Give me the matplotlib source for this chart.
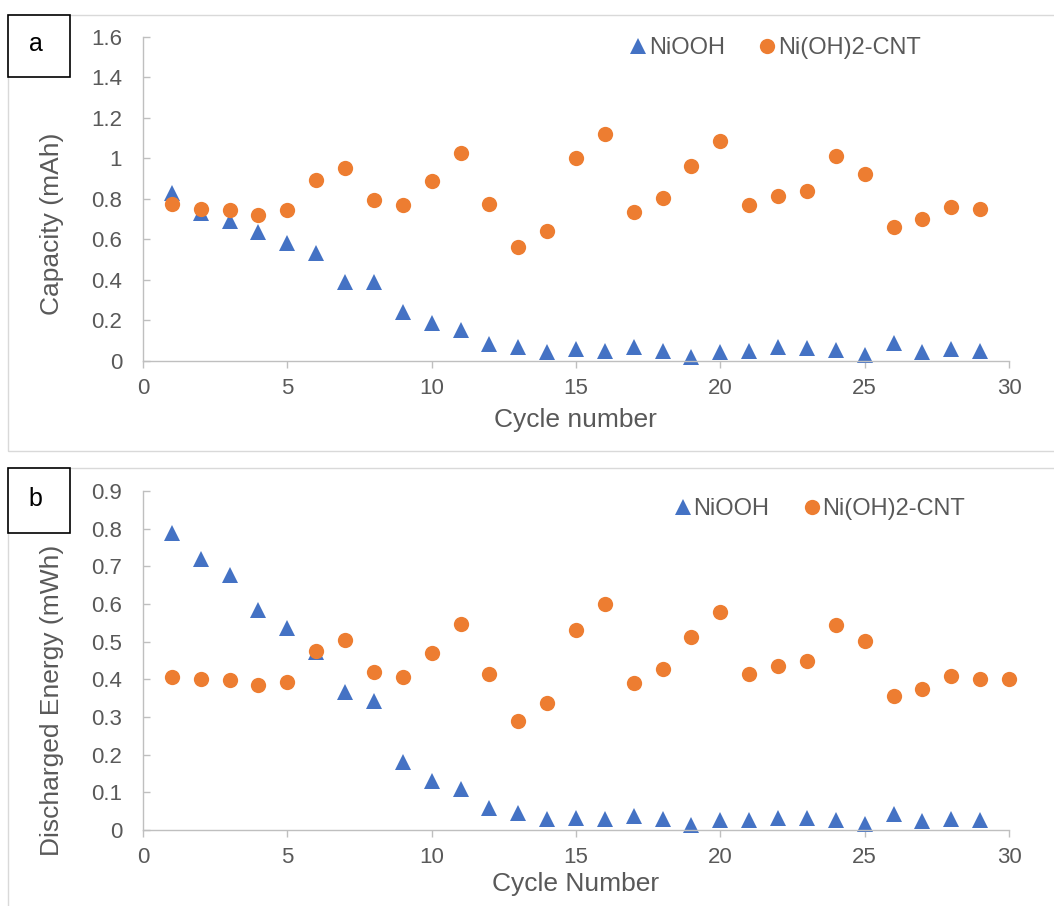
import matplotlib.pyplot as plt
from matplotlib.patches import Rectangle
from matplotlib.ticker import FuncFormatter, MultipleLocator

plt.rcParams["font.family"] = ["Liberation Sans", "DejaVu Sans"]

# data
cycles = list(range(1, 31))
cap_niooh = [0.83, 0.73, 0.69, 0.635, 0.585, 0.535, 0.39, 0.39, 0.24, 0.19,
             0.153, 0.084, 0.068, 0.046, 0.059, 0.05, 0.07, 0.05, 0.02, 0.046,
             0.05, 0.07, 0.063, 0.055, 0.03, 0.087, 0.046, 0.058, 0.05]
cap_cnt = [0.774, 0.749, 0.746, 0.72, 0.747, 0.894, 0.951, 0.795, 0.77, 0.89,
           1.029, 0.774, 0.565, 0.642, 1.0, 1.123, 0.736, 0.807, 0.965, 1.086,
           0.77, 0.815, 0.838, 1.014, 0.922, 0.663, 0.701, 0.759, 0.749]
energy_niooh = [0.789, 0.72, 0.677, 0.584, 0.537, 0.473, 0.367, 0.342, 0.18, 0.13,
                0.108, 0.059, 0.044, 0.028, 0.033, 0.028, 0.037, 0.028, 0.013, 0.027,
                0.027, 0.033, 0.033, 0.027, 0.016, 0.042, 0.024, 0.029, 0.027]
energy_cnt = [0.405, 0.401, 0.397, 0.384, 0.394, 0.475, 0.504, 0.42, 0.407, 0.469,
              0.546, 0.414, 0.29, 0.338, 0.531, 0.6, 0.391, 0.427, 0.512, 0.58,
              0.413, 0.435, 0.448, 0.543, 0.502, 0.355, 0.375, 0.409, 0.402, 0.402]

BLUE = "#4472C4"
ORANGE = "#ED7D31"
GREY_TXT = "#595959"
GREY_AX = "#BFBFBF"
W, H = 1054, 906


def px_rect(x0, y0, x1, y1):
    return [x0 / W, 1 - y1 / H, (x1 - x0) / W, (y1 - y0) / H]


fig = plt.figure(figsize=(W / 100, H / 100), dpi=100)

# outer chart frames and panel letters
for (x0, y0, x1, y1) in [(8, 15, 1070, 451), (8, 468, 1070, 930)]:
    fig.patches.append(Rectangle((x0 / W, 1 - y1 / H), (x1 - x0) / W, (y1 - y0) / H,
                                 transform=fig.transFigure, fill=False,
                                 edgecolor="#D9D9D9", linewidth=1.0))
for letter, (x0, y0, x1, y1) in [("a", (8, 15, 70, 77)), ("b", (8, 468, 70, 533))]:
    fig.patches.append(Rectangle((x0 / W, 1 - y1 / H), (x1 - x0) / W, (y1 - y0) / H,
                                 transform=fig.transFigure, facecolor="white",
                                 edgecolor="black", linewidth=1.2))
    fig.text((x0 + x1) / 2 / W - 0.003, 1 - ((y0 + y1) / 2 - 2) / H, letter,
             fontsize=18, ha="center", va="center", color="black")


def style_axes(ax, ymax, ystep, ylabel, xlabel, ylab_y, xlab_y, leg_xy):
    ax.set_xlim(0, 30)
    ax.set_ylim(0, ymax)
    ax.xaxis.set_major_locator(MultipleLocator(5))
    ax.yaxis.set_major_locator(MultipleLocator(ystep))
    ax.yaxis.set_major_formatter(FuncFormatter(lambda v, p: f"{round(v, 2):g}"))
    for side in ["top", "right"]:
        ax.spines[side].set_visible(False)
    for side in ["left", "bottom"]:
        ax.spines[side].set_color(GREY_AX)
        ax.spines[side].set_linewidth(1.0)
    ax.tick_params(axis="y", direction="in", length=5, width=1, color=GREY_AX,
                   pad=15, labelsize=16, labelcolor=GREY_TXT)
    ax.tick_params(axis="x", direction="out", length=5, width=1, color=GREY_AX,
                   pad=7, labelsize=16, labelcolor=GREY_TXT)
    ax.set_ylabel(ylabel, fontsize=19, color=GREY_TXT, va="center")
    ax.yaxis.set_label_coords(-0.105, ylab_y)
    ax.set_xlabel(xlabel, fontsize=19, color=GREY_TXT, va="center")
    ax.xaxis.set_label_coords(0.499, xlab_y)
    ax.legend(ncol=2, frameon=False, loc="center", bbox_to_anchor=leg_xy,
              fontsize=17, labelcolor=GREY_TXT, handlelength=0.6,
              handletextpad=0.15, columnspacing=1.5)


# panel a
ax_a = fig.add_axes(px_rect(143, 37, 1009, 361))
ax_a.plot(cycles[:len(cap_niooh)], cap_niooh, "^", color=BLUE, ms=11, mew=0,
          label="NiOOH", clip_on=False)
ax_a.plot(cycles[:len(cap_cnt)], cap_cnt, "o", color=ORANGE, ms=11, mew=0,
          label="Ni(OH)2-CNT", clip_on=False)
style_axes(ax_a, 1.6, 0.2, "Capacity (mAh)", "Cycle number",
           0.423, -0.182, (0.731, 0.966))

# panel b
ax_b = fig.add_axes(px_rect(143, 491, 1009, 830))
ax_b.plot(cycles[:len(energy_niooh)], energy_niooh, "^", color=BLUE, ms=11, mew=0,
          label="NiOOH", clip_on=False)
ax_b.plot(cycles[:len(energy_cnt)], energy_cnt, "o", color=ORANGE, ms=11, mew=0,
          label="Ni(OH)2-CNT", clip_on=False)
style_axes(ax_b, 0.9, 0.1, "Discharged Energy (mWh)", "Cycle Number",
           0.383, -0.159, (0.782, 0.947))

fig.savefig("out.png", dpi=100)
